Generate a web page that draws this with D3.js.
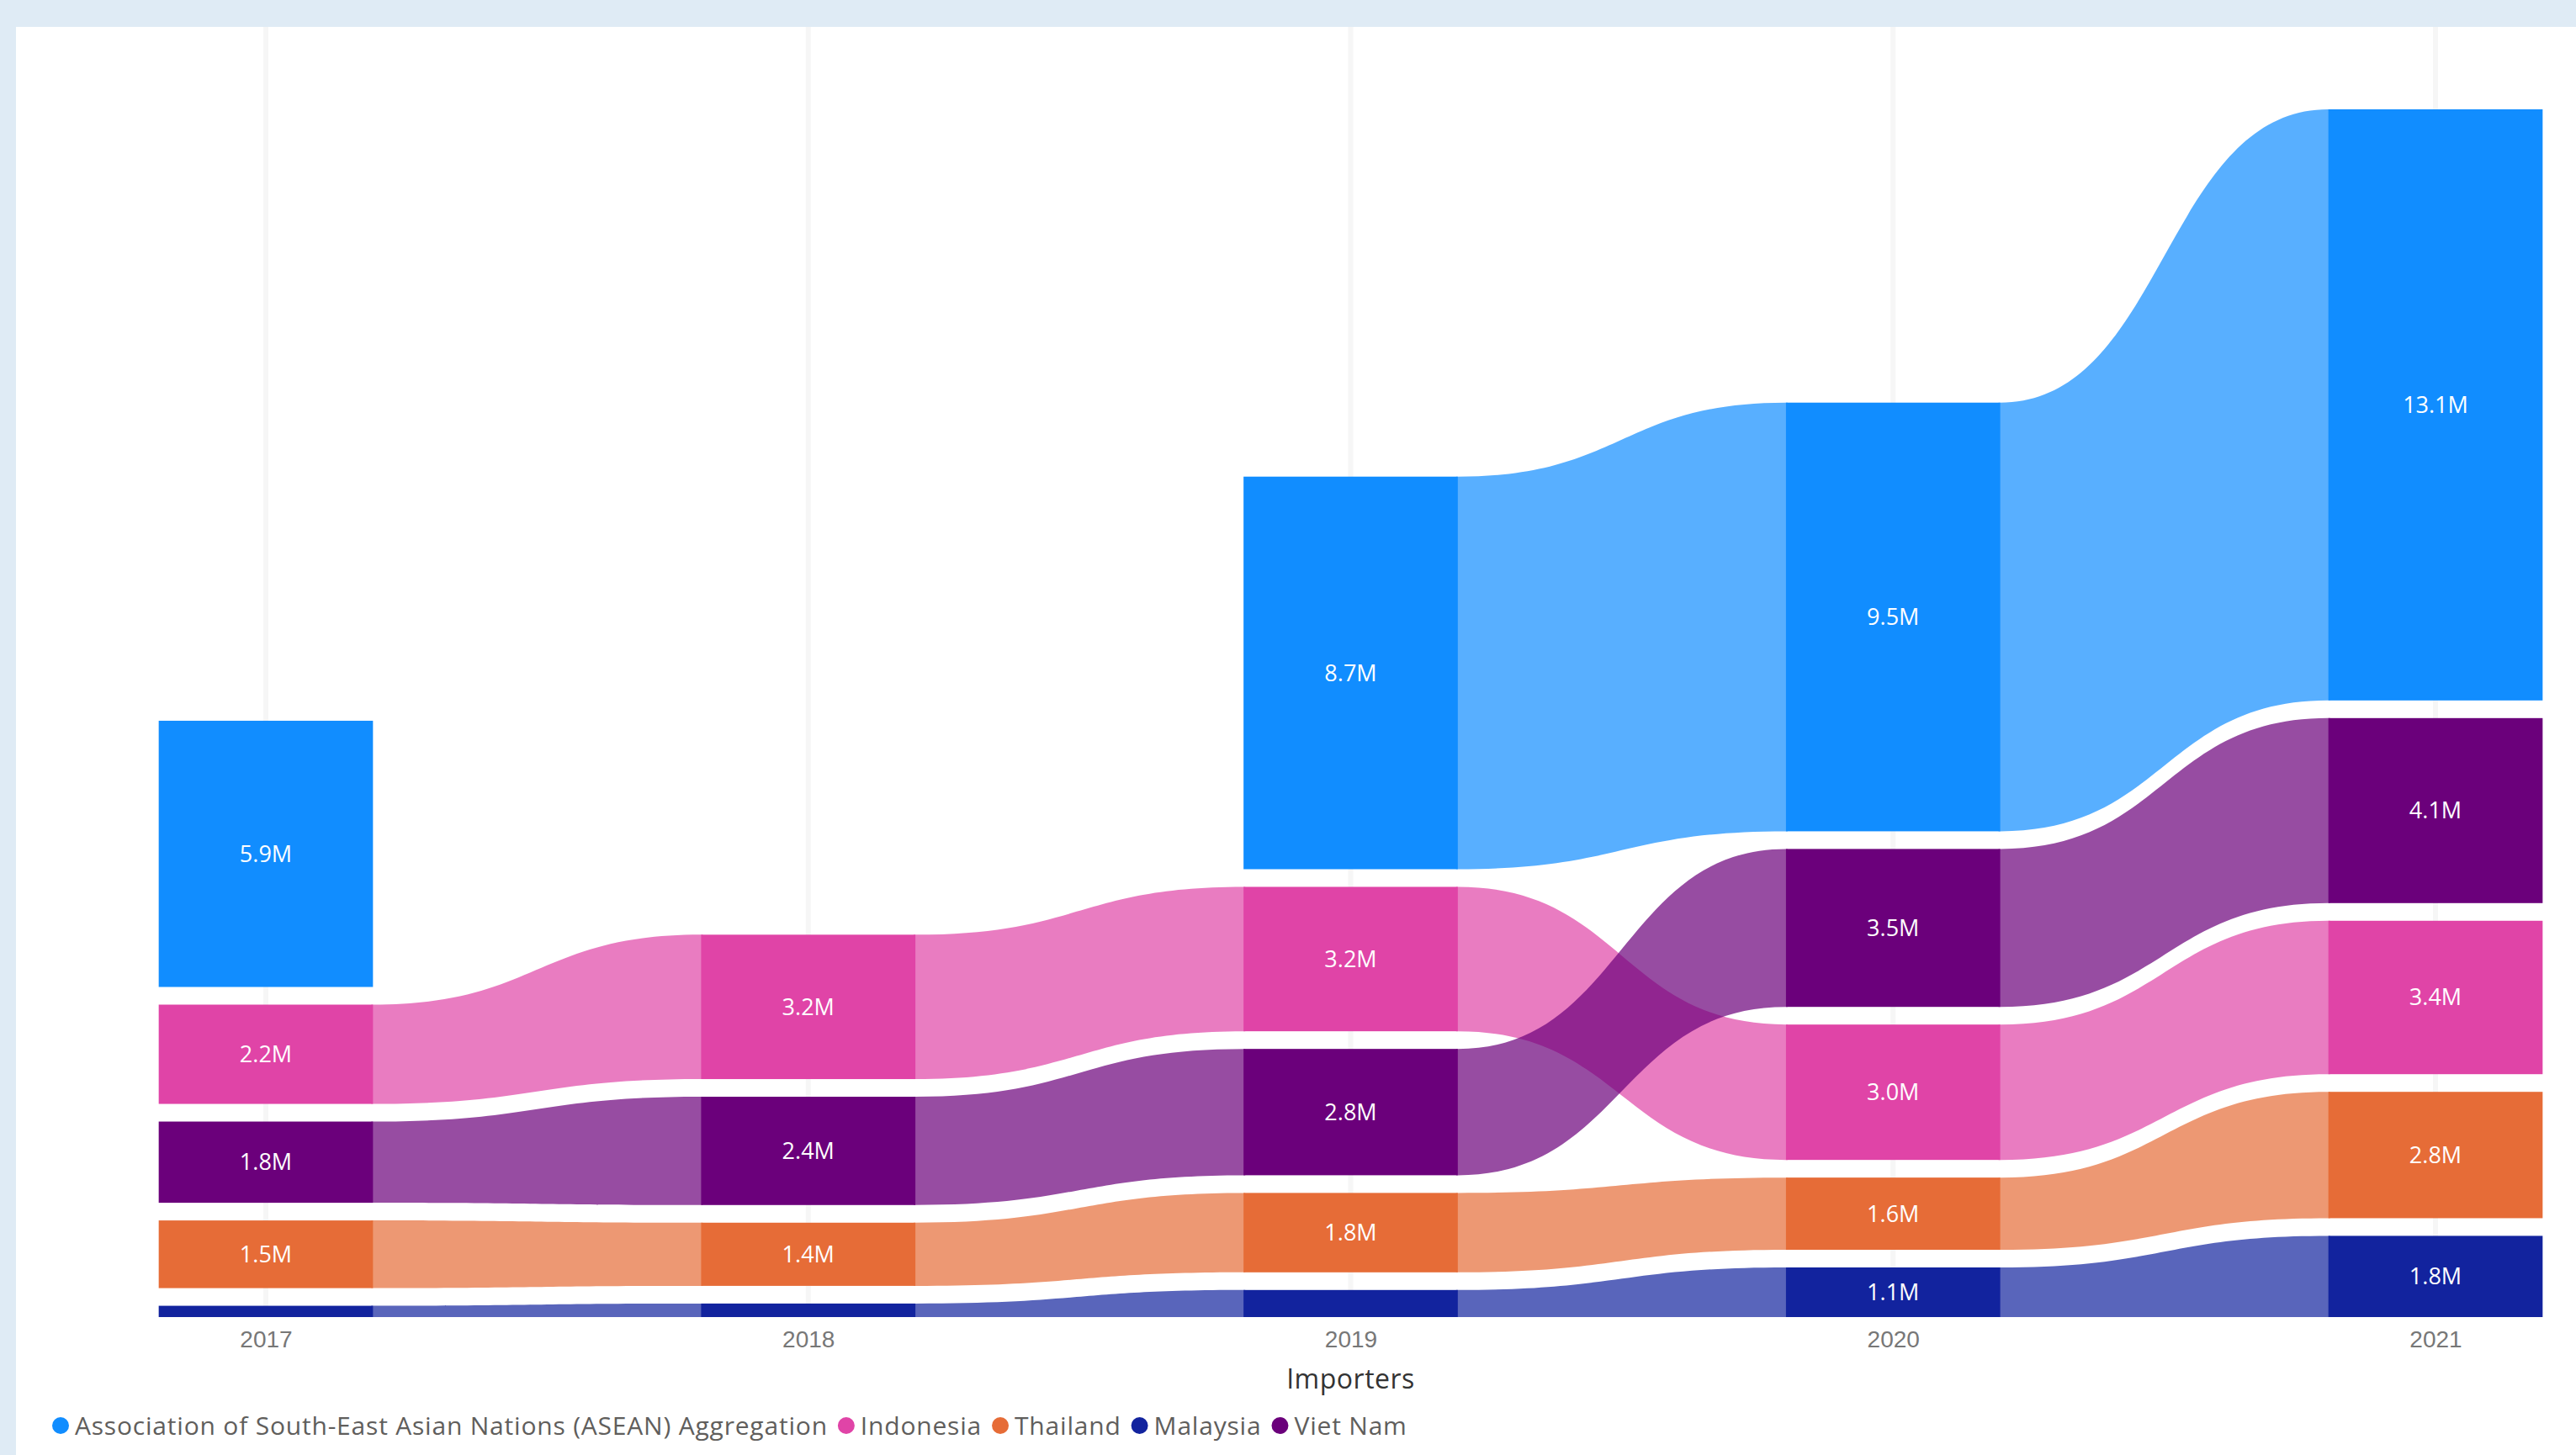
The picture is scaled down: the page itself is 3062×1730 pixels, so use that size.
<!DOCTYPE html>
<html>
<head>
<meta charset="utf-8">
<script src="https://cdn.jsdelivr.net/npm/d3@7"></script>
<style>
  body { margin: 0; background: #dfebf5; }
  svg { display: block; font-family: "Segoe UI", "Open Sans", sans-serif; }
</style>
<title>Importers ribbon</title>
</head>
<body>
<svg id="chart" width="3062" height="1730"></svg>
<script>
// data (millions)
var years = ["2017", "2018", "2019", "2020", "2021"];
var seriesNames = ["Association of South-East Asian Nations (ASEAN) Aggregation", "Indonesia", "Thailand", "Malaysia", "Viet Nam"];
var seriesColors = ["#118DFF", "#E044A7", "#E66C37", "#12239E", "#6B007B"];
var asean     = [5.9, null, 8.7, 9.5, 13.1];
var indonesia = [2.2, 3.2, 3.2, 3.0, 3.4];
var thailand  = [1.5, 1.4, 1.76, 1.6, 2.8];
var malaysia  = [0.25, 0.3, 0.6, 1.1, 1.8];
var vietNam   = [1.8, 2.4, 2.8, 3.5, 4.1];
var seriesValues = [asean, indonesia, thailand, malaysia, vietNam];

var W = 3062, H = 1730;
var baseline = 1566, plotTop = 130, gap = 21;

var svg = d3.select("#chart");

// white card
svg.append("rect")
	.attr("x", 19).attr("y", 32)
	.attr("width", W - 19).attr("height", H - 32)
	.attr("fill", "#ffffff");

var x = d3.scalePoint().domain(years).range([316, 2895]);
var barW = x.step() * 0.395;

// biggest column decides the scale (values + gaps)
var totals = years.map(function(yr, i) {
	return d3.sum(seriesValues, function(s) { return s[i] == null ? 0 : s[i]; });
});
var counts = years.map(function(yr, i) {
	return seriesValues.filter(function(s) { return s[i] != null; }).length;
});
var iMax = d3.maxIndex(totals);
var maxTotal = totals[iMax];
var y = d3.scaleLinear()
	.domain([0, maxTotal])
	.range([baseline, plotTop + gap * (counts[iMax] - 1)]);

// stack each column: biggest on top, smallest at the bottom
var pos = seriesValues.map(function() { return []; });
years.forEach(function(yr, i) {
	var idx = d3.range(seriesValues.length)
		.filter(function(s) { return seriesValues[s][i] != null; })
		.sort(function(a, b) { return seriesValues[a][i] - seriesValues[b][i]; });
	var cursor = baseline;
	idx.forEach(function(s) {
		var h = baseline - y(seriesValues[s][i]);
		pos[s][i] = { bottom: cursor, top: cursor - h, v: seriesValues[s][i] };
		cursor = cursor - h - gap;
	});
});

// gridlines
svg.append("g").selectAll("line")
	.data(years)
	.enter()
	.append("line")
	.attr("x1", function(d) { return x(d); })
	.attr("x2", function(d) { return x(d); })
	.attr("y1", 32)
	.attr("y2", baseline)
	.attr("stroke", "#f6f6f6")
	.attr("stroke-width", 6);

// ribbons between columns
var ribbons = [];
seriesValues.forEach(function(s, si) {
	for (var i = 0; i < years.length - 1; i++) {
		if (pos[si][i] && pos[si][i + 1]) {
			ribbons.push({ s: si, a: pos[si][i], b: pos[si][i + 1], x0: x(years[i]) + barW / 2, x1: x(years[i + 1]) - barW / 2 });
		}
	}
});

svg.append("g").selectAll("path")
	.data(ribbons)
	.enter()
	.append("path")
	.attr("d", function(r) {
		var xm = (r.x0 + r.x1) / 2;
		var p = d3.path();
		p.moveTo(r.x0 - 2, r.a.top);
		p.lineTo(r.x0, r.a.top);
		p.bezierCurveTo(xm, r.a.top, xm, r.b.top, r.x1, r.b.top);
		p.lineTo(r.x1 + 2, r.b.top);
		p.lineTo(r.x1 + 2, r.b.bottom);
		p.lineTo(r.x1, r.b.bottom);
		p.bezierCurveTo(xm, r.b.bottom, xm, r.a.bottom, r.x0, r.a.bottom);
		p.lineTo(r.x0 - 2, r.a.bottom);
		p.closePath();
		return p.toString();
	})
	.attr("fill", function(r) { return seriesColors[r.s]; })
	.attr("fill-opacity", 0.7);

// bars
var bars = [];
seriesValues.forEach(function(s, si) {
	years.forEach(function(yr, i) {
		if (pos[si][i]) bars.push({ s: si, yr: yr, p: pos[si][i] });
	});
});

svg.append("g").selectAll("rect")
	.data(bars)
	.enter()
	.append("rect")
	.attr("x", function(d) { return x(d.yr) - barW / 2; })
	.attr("y", function(d) { return d.p.top; })
	.attr("width", barW)
	.attr("height", function(d) { return d.p.bottom - d.p.top; })
	.attr("fill", function(d) { return seriesColors[d.s]; });

// data labels (only where they fit)
svg.append("g").selectAll("text")
	.data(bars.filter(function(d) { return d.p.bottom - d.p.top >= 45; }))
	.enter()
	.append("text")
	.attr("x", function(d) { return x(d.yr); })
	.attr("y", function(d) { return (d.p.top + d.p.bottom) / 2; })
	.attr("dy", "0.35em")
	.attr("text-anchor", "middle")
	.attr("fill", "#ffffff")
	.attr("font-size", 27)
	.text(function(d) { return d3.format(".1f")(d.p.v) + "M"; });

// x axis
var xAxis = svg.append("g")
	.attr("transform", "translate(0," + baseline + ")")
	.call(d3.axisBottom(x).tickSize(0).tickPadding(16));
xAxis.select(".domain").remove();
xAxis.selectAll("text")
	.attr("font-size", 28)
	.attr("font-family", null)
	.attr("fill", "#777777");

svg.append("text")
	.attr("x", x(years[2]))
	.attr("y", 1640)
	.attr("dy", "0.35em")
	.attr("text-anchor", "middle")
	.attr("font-size", 32)
	.attr("letter-spacing", 0.5)
	.attr("fill", "#333333")
	.text("Importers");

// legend
var legend = svg.append("g").attr("transform", "translate(0,1695)");
var lx = 72;
seriesNames.forEach(function(name, i) {
	legend.append("circle")
		.attr("cx", lx).attr("cy", 0).attr("r", 10)
		.attr("fill", seriesColors[i]);
	var t = legend.append("text")
		.attr("x", lx + 17)
		.attr("y", 0)
		.attr("dy", "0.35em")
		.attr("font-size", 30)
		.attr("letter-spacing", 0.8)
		.attr("fill", "#605e5c")
		.text(name);
	lx = lx + 17 + t.node().getComputedTextLength() + 22;
});
</script>
</body>
</html>
